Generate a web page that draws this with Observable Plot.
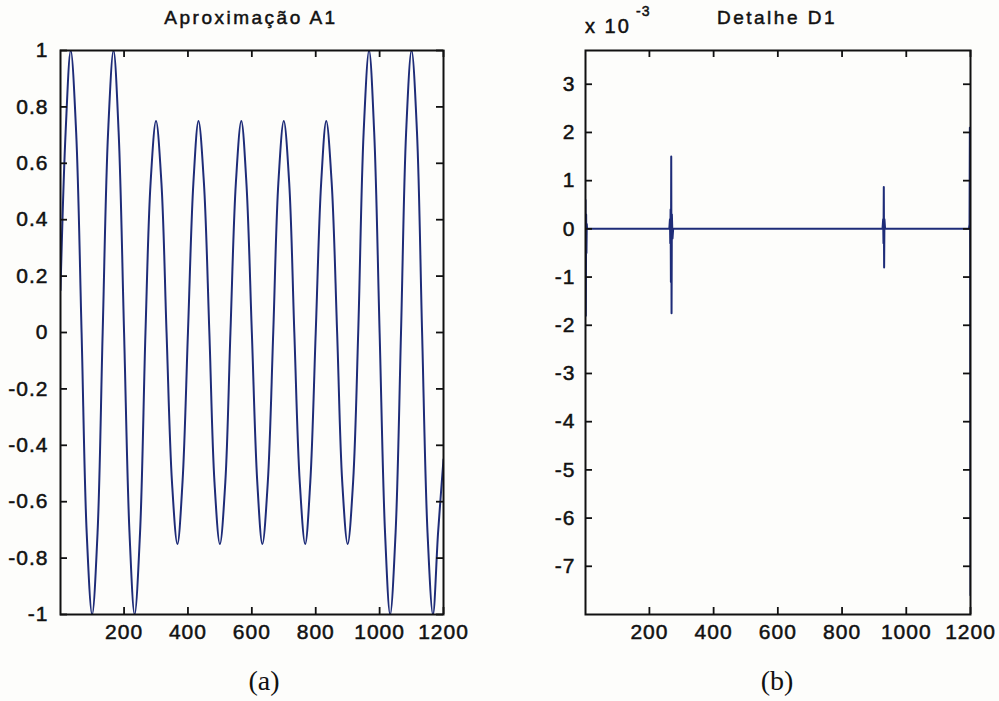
<!DOCTYPE html>
<html><head><meta charset="utf-8">
<script src="https://cdn.jsdelivr.net/npm/d3@7"></script>
<script src="https://cdn.jsdelivr.net/npm/@observablehq/plot@0.6"></script>
<style>
body{margin:0;background:#fdfdfb;}
#wrap{position:relative;width:999px;height:701px;overflow:hidden;font-family:"Liberation Sans",Arial,sans-serif;color:#111;}
.panel{position:absolute;top:0;}
.title{position:absolute;font-size:19px;letter-spacing:2.5px;transform:translate(-50%,-50%);white-space:nowrap;-webkit-text-stroke:0.5px #111;}
.cap{position:absolute;font-family:"Liberation Serif","Times New Roman",serif;font-size:28px;transform:translate(-50%,-50%);}
.exp{position:absolute;white-space:nowrap;-webkit-text-stroke:0.5px #111;}
#wrap svg text{stroke:#111;stroke-width:0.5px;}
</style></head><body><div id="wrap">
<div class="panel" id="pa" style="left:0px"></div>
<div class="panel" id="pb" style="left:500px"></div>
<div class="title" style="left:251px;top:18px">Aproximação A1</div>
<div class="title" style="left:777px;top:18px">Detalhe D1</div>
<div class="exp" style="left:585px;top:15px;font-size:20px;letter-spacing:2px">x 10</div>
<div class="exp" style="left:636px;top:3px;font-size:14px;letter-spacing:1px">-3</div>
<div class="cap" style="left:264px;top:681px">(a)</div>
<div class="cap" style="left:777px;top:681px">(b)</div>
</div>
<script>
// ---- data ----
const a1X = [1, 17, 33, 50, 67, 83, 100, 117,
  133, 150, 167, 183, 200, 217, 233, 250,
  267, 283, 300, 317, 333, 350, 367, 383,
  400, 417, 433, 450, 467, 483, 500, 517,
  533, 550, 567, 583, 600, 617, 633, 650,
  667, 683, 700, 717, 733, 750, 767, 783,
  800, 817, 833, 850, 867, 883, 900, 917,
  933, 950, 967, 983, 1000, 1017, 1033, 1050,
  1067, 1083, 1100, 1117, 1133, 1150, 1167, 1183, 1200];
const a1Y = [0.15, 0.71, 1, 0.71, 0, -0.71, -1, -0.71,
  0, 0.71, 1, 0.71, 0, -0.71, -1, -0.71,
  0, 0.53, 0.75, 0.53, 0, -0.53, -0.75, -0.53,
  0, 0.53, 0.75, 0.53, 0, -0.53, -0.75, -0.53,
  0, 0.53, 0.75, 0.53, 0, -0.53, -0.75, -0.53,
  0, 0.53, 0.75, 0.53, 0, -0.53, -0.75, -0.53,
  0, 0.53, 0.75, 0.53, 0, -0.53, -0.75, -0.53,
  0, 0.71, 1, 0.71, 0, -0.71, -1, -0.71,
  0, 0.71, 1, 0.71, 0, -0.71, -1, -0.71, -0.45];
const d1X = [1, 2, 3, 4, 5, 6, 10,
  262, 264, 265, 266, 267, 268, 269, 270, 272, 274,
  926, 928, 929, 930, 931, 932, 934,
  1195, 1197, 1198, 1199, 1200];
const d1Y = [0.6, -1.8, 0.3, -0.5, 0.1, 0, 0,
  0, 0.2, -0.3, 0.4, -1.1, 1.5, -1.75, 0.3, -0.2, 0,
  0, 0.2, -0.3, 0.87, -0.8, 0.2, 0,
  0, 0.1, 2.1, -0.4, -7.6];
const xTicks = [200, 400, 600, 800, 1000, 1200];
const a1YTicks = [-1, -0.8, -0.6, -0.4, -0.2, 0, 0.2, 0.4, 0.6, 0.8, 1];
const d1YTicks = [-7, -6, -5, -4, -3, -2, -1, 0, 1, 2, 3];
const xDomain = [1, 1200];
const a1YDomain = [-1, 1];
const d1YDomain = [-8, 3.7];

const a1 = a1X.map((x, i) => ({x, y: a1Y[i]}));
const d1 = d1X.map((x, i) => ({x, y: d1Y[i]}));

const lineColor = "#1e2c78";
const ink = "#111";
const style = {fontFamily: '"Liberation Sans", Arial, sans-serif', fontSize: "21px", letterSpacing: "1px", color: ink, background: "transparent", overflow: "visible"};
const fmt = d => String(d);

function panel({data, yDomain, yTicks, width, height, mt, mb, ml, mr, curve}) {
  const iw = width - ml - mr, ih = height - mt - mb, t = 7;
  return Plot.plot({
    width, height, marginTop: mt, marginBottom: mb, marginLeft: ml, marginRight: mr,
    style,
    x: {domain: xDomain},
    y: {domain: yDomain},
    marks: [
      Plot.line(data, {x: "x", y: "y", stroke: lineColor, strokeWidth: 2, curve, clip: true}),
      Plot.tickX(xTicks, {x: d => d, insetTop: ih - t, stroke: ink, strokeWidth: 1.8}),
      Plot.tickX(xTicks, {x: d => d, insetBottom: ih - t, stroke: ink, strokeWidth: 1.8}),
      Plot.tickY(yTicks, {y: d => d, insetRight: iw - t, stroke: ink, strokeWidth: 1.8}),
      Plot.tickY(yTicks, {y: d => d, insetLeft: iw - t, stroke: ink, strokeWidth: 1.8}),
      Plot.frame({stroke: ink, strokeWidth: 2}),
      Plot.axisX(xTicks, {tickSize: 0, tickPadding: 10, tickFormat: fmt, label: null}),
      Plot.axisY(yTicks, {tickSize: 0, tickPadding: ml > 70 ? 10 : 12, tickFormat: fmt, label: null})
    ]
  });
}

document.getElementById("pa").append(panel({data: a1, yDomain: a1YDomain, yTicks: a1YTicks,
  width: 499, height: 660, mt: 50, mb: 46, ml: 60, mr: 56, curve: "catmull-rom"}));
document.getElementById("pb").append(panel({data: d1, yDomain: d1YDomain, yTicks: d1YTicks,
  width: 499, height: 660, mt: 50, mb: 46, ml: 85, mr: 29, curve: "linear"}));
</script>
</body></html>
